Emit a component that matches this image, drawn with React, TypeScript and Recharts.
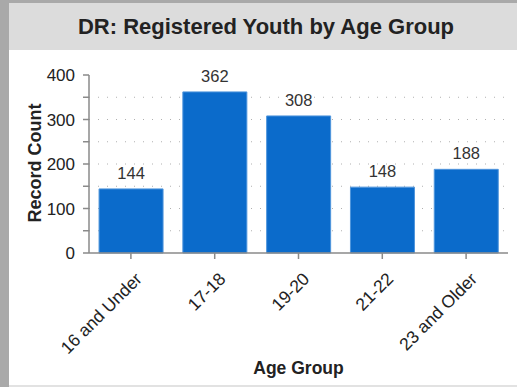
import React from 'react';
import {
  BarChart,
  Bar,
  XAxis,
  YAxis,
  CartesianGrid,
  LabelList,
  Label,
} from 'recharts';

// Age buckets and registered-youth counts
const ageGroups = ['16 and Under', '17-18', '19-20', '21-22', '23 and Older'];
const recordCounts = [144, 362, 308, 148, 188];

// Y axis: tick marks every 50, labels on the hundreds
const yTicks = [0, 50, 100, 150, 200, 250, 300, 350, 400];
const gridValues = [50, 100, 150, 200, 250, 300, 350];

const rows = ageGroups.map((group, i) => ({ group, count: recordCounts[i] }));

const FONT = '"Liberation Sans", Arial, Helvetica, sans-serif';
const TEXT = '#222';

const AngledTick = (props: any) => {
  const { x, y, payload } = props;
  const ax = x + 12;
  const ay = y + 19;
  return (
    <text
      x={ax}
      y={ay}
      textAnchor="end"
      transform={`rotate(-45, ${ax}, ${ay})`}
      fontSize={17.5}
      fontFamily={FONT}
      fill={TEXT}
    >
      {payload.value}
    </text>
  );
};

const YTitle = (props: any) => {
  const { viewBox } = props;
  const cx = 34.5;
  const cy = viewBox.y + viewBox.height / 2 - 1;
  return (
    <text
      x={cx}
      y={cy}
      textAnchor="middle"
      dominantBaseline="central"
      transform={`rotate(-90, ${cx}, ${cy})`}
      fontSize={18}
      fontWeight="bold"
      fontFamily={FONT}
      fill={TEXT}
    >
      Record Count
    </text>
  );
};

const XTitle = (props: any) => {
  const { viewBox } = props;
  const cx = viewBox.x + viewBox.width / 2;
  return (
    <text
      x={cx}
      y={374}
      textAnchor="middle"
      fontSize={17.5}
      fontWeight="bold"
      fontFamily={FONT}
      fill={TEXT}
    >
      Age Group
    </text>
  );
};

export default function App() {
  return (
    <div
      style={{
        position: 'fixed',
        left: 0,
        top: 0,
        width: 517,
        height: 387,
        background: '#a9a9a9',
        overflow: 'hidden',
        fontFamily: FONT,
      }}
    >
      <div
        style={{
          position: 'absolute',
          left: 9,
          top: 3,
          width: 510,
          height: 382,
          background: '#fff',
          borderBottom: '2px solid #e2e2e2',
        }}
      >
        <div
          style={{
            height: 47,
            background: '#dcdcdc',
            display: 'flex',
            alignItems: 'center',
            justifyContent: 'center',
            fontSize: 22,
            fontWeight: 'bold',
            color: TEXT,
            paddingLeft: 4,
            boxSizing: 'border-box',
          }}
        >
          DR: Registered Youth by Age Group
        </div>
      </div>
      <div style={{ position: 'absolute', left: 0, top: 0 }}>
        <BarChart
          width={517}
          height={387}
          data={rows}
          margin={{ top: 75, right: 9, bottom: 34, left: 0 }}
          barCategoryGap="12%"
        >
          <CartesianGrid
            vertical={false}
            horizontalValues={gridValues}
            stroke="#b0b0b0"
            strokeDasharray="1 8"
          />
          <XAxis
            dataKey="group"
            height={100}
            interval={0}
            tick={<AngledTick />}
            tickSize={6}
            tickMargin={2}
            axisLine={{ stroke: '#8a8a8a', strokeWidth: 1.5 }}
            tickLine={{ stroke: '#8a8a8a', strokeWidth: 1.5 }}
          >
            <Label content={<XTitle />} />
          </XAxis>
          <YAxis
            width={89}
            domain={[0, 400]}
            ticks={yTicks}
            interval={0}
            tickSize={6}
            tickMargin={8}
            tickFormatter={(v: number) => (v % 100 === 0 ? String(v) : '')}
            tick={{ fontSize: 17, fill: TEXT, fontFamily: FONT }}
            axisLine={{ stroke: '#8a8a8a', strokeWidth: 1.5 }}
            tickLine={{ stroke: '#8a8a8a', strokeWidth: 1.5 }}
          >
            <Label content={<YTitle />} />
          </YAxis>
          <Bar
            dataKey="count"
            fill="#0b6bcb"
            stroke="#4f95dc"
            strokeWidth={1}
            isAnimationActive={false}
          >
            <LabelList
              dataKey="count"
              position="top"
              offset={10}
              fontSize={16.5}
              fill="#333"
              fontFamily={FONT}
            />
          </Bar>
        </BarChart>
      </div>
    </div>
  );
}
